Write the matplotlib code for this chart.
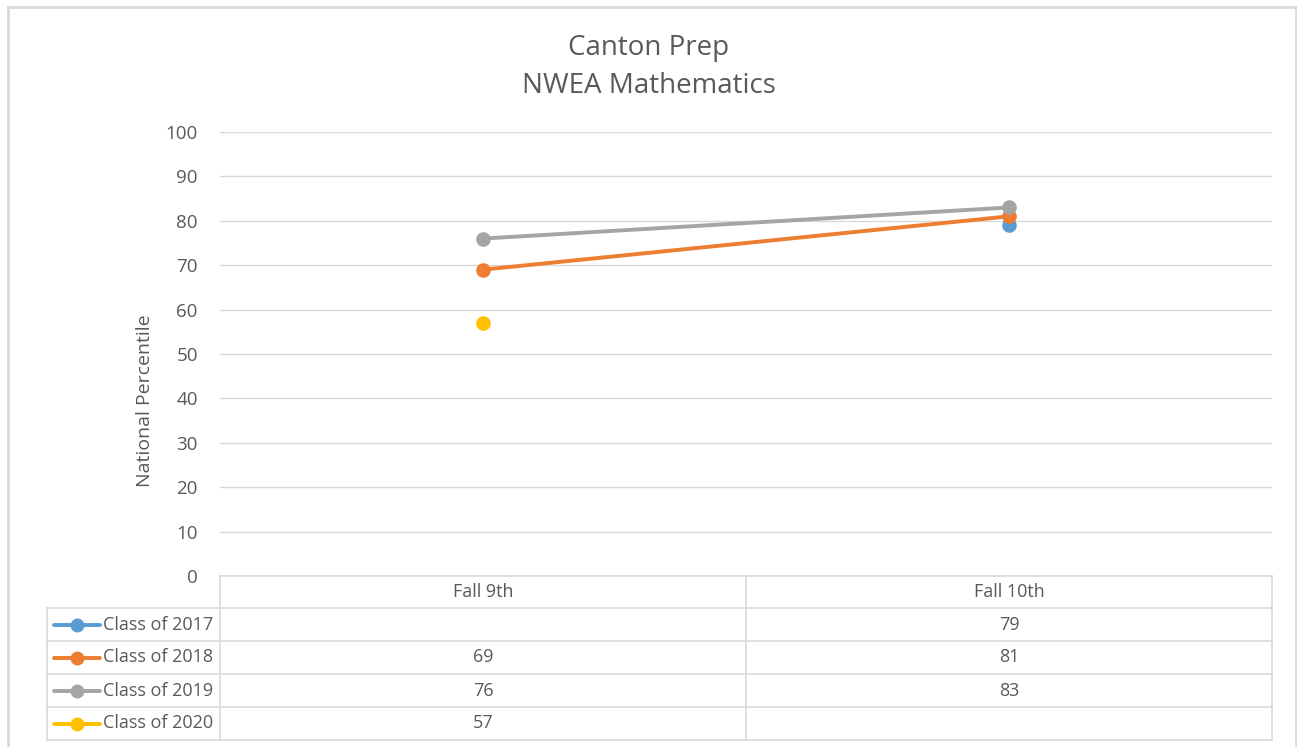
import matplotlib
matplotlib.use("Agg")
import matplotlib.pyplot as plt
from matplotlib.lines import Line2D
from matplotlib.patches import Rectangle
import numpy as np

plt.rcParams['font.family'] = ['Open Sans', 'DejaVu Sans']

categories = ["Fall 9th", "Fall 10th"]
series_names = ["Class of 2017", "Class of 2018", "Class of 2019", "Class of 2020"]
class_2017 = [None, 79]
class_2018 = [69, 81]
class_2019 = [76, 83]
class_2020 = [57, None]
series_values = [class_2017, class_2018, class_2019, class_2020]
colors = ["#5b9bd5", "#ed7d31", "#a5a5a5", "#ffc000"]
title = "Canton Prep\nNWEA Mathematics"
ylabel = "National Percentile"
yticks = list(range(0, 101, 10))

W, H = 1297, 747
fig = plt.figure(figsize=(W / 100, H / 100), dpi=100)
txt = "#595959"
grid = "#d9d9d9"

def fx(px):
    return px / W

def fy(py):
    return 1 - py / H

# outer border
fig.add_artist(Rectangle((fx(8), fy(760)), fx(1296) - fx(8), fy(7) - fy(760),
                         transform=fig.transFigure, fill=False, ec="#d9d9d9", lw=2))

left, right, top, bottom = 220, 1272, 132, 576
ax = fig.add_axes([fx(left), fy(bottom), fx(right) - fx(left), fy(top) - fy(bottom)])
ax.set_xlim(-0.5, len(categories) - 0.5)
ax.set_ylim(0, 100)
ax.set_yticks(yticks)
ax.set_yticklabels([str(t) for t in yticks], color=txt, fontsize=13.5)
ax.set_xticks([])
for s in ax.spines.values():
    s.set_visible(False)
ax.tick_params(axis='y', length=0, pad=16)
ax.grid(axis='y', color=grid, lw=1)
ax.set_axisbelow(True)
ax.set_ylabel(ylabel, color=txt, fontsize=14, va='center')
ax.yaxis.set_label_coords((145 - left) / (right - left), (bottom - 401) / (bottom - top))

x = np.arange(len(categories))
for vals, c in zip(series_values, colors):
    y = np.array([np.nan if v is None else v for v in vals], dtype=float)
    ax.plot(x, y, color=c, lw=2.8, marker='o', markersize=9.5, solid_capstyle='round', zorder=3)

fig.text(0.5, fy(67), title, ha='center', va='center', fontsize=20, color=txt, linespacing=1.45)

# data table
row_h = 33
rows_top = bottom + 32
table_left = 47
mid = (left + right) / 2
lw = 1.2

def hline(x0, x1, y):
    fig.add_artist(Line2D([fx(x0), fx(x1)], [fy(y), fy(y)], color=grid, lw=lw))

def vline(x, y0, y1):
    fig.add_artist(Line2D([fx(x), fx(x)], [fy(y0), fy(y1)], color=grid, lw=lw))

hline(left, right, bottom)
hline(table_left, right, rows_top)
n = len(series_names)
for i in range(1, n + 1):
    hline(table_left, right, rows_top + i * row_h)
vline(left, bottom, rows_top + n * row_h)
vline(mid, bottom, rows_top + n * row_h)
vline(right, bottom, rows_top + n * row_h)
vline(table_left, rows_top, rows_top + n * row_h)

fs_tab = 13
col_centers = [(left + mid) / 2, (mid + right) / 2]
for cc, cat in zip(col_centers, categories):
    fig.text(fx(cc), fy(bottom + 16), cat, ha='center', va='center', fontsize=fs_tab, color=txt)

for i, (name, vals, c) in enumerate(zip(series_names, series_values, colors)):
    yc = rows_top + i * row_h + row_h / 2
    fig.add_artist(Line2D([fx(54), fx(100)], [fy(yc), fy(yc)], color=c, lw=2.8,
                          solid_capstyle='round'))
    fig.add_artist(Line2D([fx(77)], [fy(yc)], color=c, marker='o', markersize=9))
    fig.text(fx(103), fy(yc), name, ha='left', va='center', fontsize=fs_tab, color=txt)
    for cc, v in zip(col_centers, vals):
        if v is not None:
            fig.text(fx(cc), fy(yc), str(v), ha='center', va='center', fontsize=fs_tab, color=txt)

fig.savefig("out.png", dpi=100, facecolor="white")
